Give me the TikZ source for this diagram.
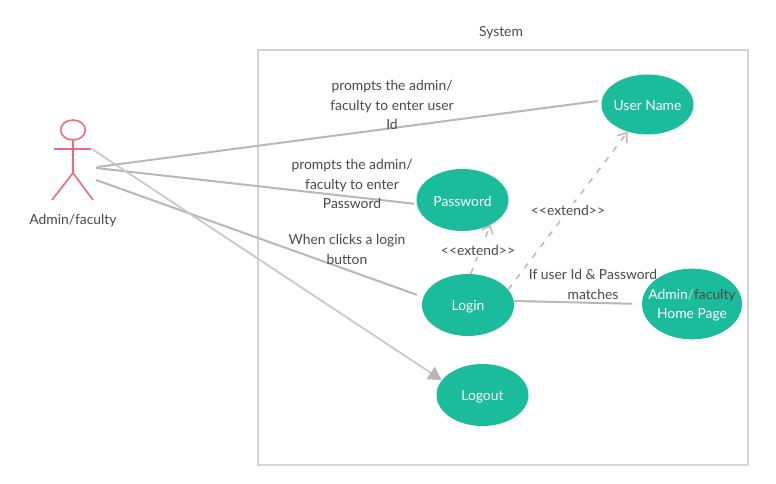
\documentclass[tikz,border=0pt]{standalone}
\usepackage{fontspec}
\setmainfont{Lato}
\usetikzlibrary{shapes.geometric,arrows.meta}
\definecolor{usecase}{HTML}{1ABC9C}
\definecolor{conn}{HTML}{B8B8B8}
\definecolor{connlight}{HTML}{C8C8C8}
\definecolor{frameg}{HTML}{D4D4D4}
\definecolor{txt}{HTML}{4A4A4A}
\definecolor{actorc}{HTML}{EE6B75}
\tikzset{
  usecasebox/.style={ellipse,fill=usecase,inner sep=0pt},
  uctext/.style={text=white,align=center,inner sep=0pt,yshift=-1pt,font=\fontsize{10.4}{14.6}\selectfont},
  lbl/.style={text=txt,align=center,inner sep=0pt,font=\fontsize{10.4}{14.6}\selectfont},
  extlbl/.style={lbl,fill=white,inner sep=1.5pt},
  assoc/.style={draw=conn,line width=1.5pt},
  extline/.style={draw=conn,line width=1.1pt,dash pattern=on 4.5pt off 5.5pt},
  limb/.style={draw=actorc,line width=1.2pt}
}
\begin{document}
\begin{tikzpicture}[x=0.75pt,y=-0.75pt]
\useasboundingbox (0,0) rectangle (776,484);
\fill[white] (0,0) rectangle (776,484);
\node[draw=frameg,line width=2.2pt,minimum width=367.5pt,minimum height=311.25pt,inner sep=0pt] (sys) at (503,257.5) {};
\node[lbl] (systitle) at (501,32.5) {System};
% actor
\node[draw=actorc,line width=1.2pt,ellipse,minimum width=18.5pt,minimum height=15pt,inner sep=0pt] (head) at (73,130) {};
\coordinate (hip) at (73,173);
\coordinate (larm) at (54,149);
\coordinate (rarm) at (91,149);
\coordinate (lfoot) at (52,200);
\coordinate (rfoot) at (93,200);
\draw[limb] (head.south) -- (hip);
\draw[limb,line width=1.4pt] (larm) -- (rarm);
\draw[limb] (lfoot) -- (hip) -- (rfoot);
\node[lbl] (actorname) at (73,221) {Admin/faculty};
% use cases
\node[usecasebox,minimum width=69pt,minimum height=45pt,label={[uctext]center:User Name}] (username) at (647.5,104.5) {};
\node[usecasebox,minimum width=69pt,minimum height=46.5pt,label={[uctext]center:Password}] (password) at (462.5,200) {};
\node[usecasebox,minimum width=69pt,minimum height=46.5pt,label={[uctext]center:Login}] (login) at (468,305) {};
\node[usecasebox,minimum width=75pt,minimum height=53pt,label={[uctext]center:{Admin{\color{white!75!txt}/}{\color{txt}faculty}\\Home Page}}] (home) at (692,304) {};
\node[usecasebox,minimum width=69pt,minimum height=46.5pt,label={[uctext]center:Logout}] (logout) at (482.5,395) {};
% free ends at the actor
\coordinate (a1) at (97,167);
\coordinate (a2) at (96,168);
\coordinate (a3) at (96,180);
\coordinate (a4) at (92,149);
% connectors
\draw[assoc,shorten >=3pt] (a1) -- (username.175);
\draw[assoc,shorten >=2pt] (a2) -- (password.185);
\draw[assoc,shorten >=5pt] (a3) -- (login.170);
\draw[draw=connlight,line width=1.3pt,-{Triangle[length=10pt,width=11pt,color=conn]}] (a4) -- (logout.160);
\draw[assoc,shorten >=7pt] (login.5) -- (home.180);
\draw[extline,-{Straight Barb[length=5pt,width=9pt,line width=1.1pt]}] (login.85) -- (password.318);
\draw[extline,-{Straight Barb[length=6pt,width=9pt,line width=1.1pt]}] (login.21) -- (username.234);
% labels
\node[lbl] (l1) at (392,105) {prompts the admin/\\faculty to enter user\\Id};
\node[lbl] (l2) at (352,184) {prompts the admin/\\faculty to enter\\Password};
\node[lbl] (l3) at (347,249.5) {When clicks a login\\button};
\node[extlbl] (l4) at (478,250) {<{}<extend>{}>};
\node[extlbl] (l5) at (568,210) {<{}<extend>{}>};
\node[lbl] (l6) at (593,284.5) {If user Id \& Password\\matches};
\end{tikzpicture}
\end{document}
